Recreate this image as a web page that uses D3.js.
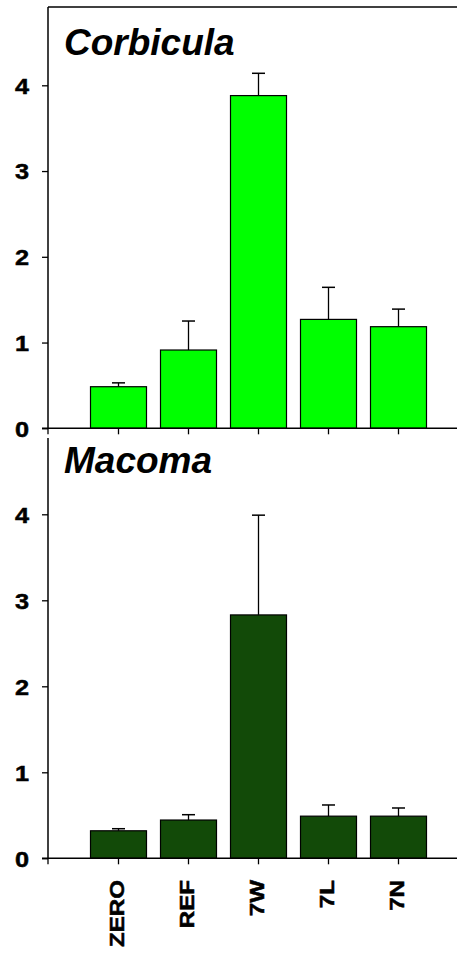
<!DOCTYPE html>
<html>
<head>
<meta charset="utf-8">
<script src="https://cdn.jsdelivr.net/npm/d3@7"></script>
<style>
  html, body { margin: 0; padding: 0; background: #fff; }
  svg { display: block; }
  text { font-family: "Liberation Sans", Arial, sans-serif; font-weight: bold; fill: #000; }
</style>
</head>
<body>
<svg id="chart" width="457" height="953"></svg>
<script>
// Sites along the x axis
const sites = ["ZERO", "REF", "7W", "7L", "7N"];

// Corbicula: mean and upper error
const corbiculaMean = [0.485, 0.913, 3.88, 1.27, 1.185];
const corbiculaErr  = [0.045, 0.338, 0.26, 0.374, 0.205];

// Macoma: mean and upper error
const macomaMean = [0.32, 0.445, 2.83, 0.49, 0.49];
const macomaErr  = [0.024, 0.062, 1.16, 0.13, 0.095];

const yTicks = [0, 1, 2, 3, 4];

const svg = d3.select("#chart");

const x = d3.scaleBand()
  .domain(sites)
  .range([83.5, 433.5])
  .paddingInner(0.2)
  .paddingOuter(0.1);

const axisX0 = 48, axisXEnd = 457;

const panels = [
  { title: "Corbicula", mean: corbiculaMean, err: corbiculaErr, fill: "#00ff00",
    y0: 428.3, y4: 85.3, top: 7, frameTop: true, titleY: 55 },
  { title: "Macoma", mean: macomaMean, err: macomaErr, fill: "#124a08",
    y0: 858.3, y4: 514.3, top: 438, frameTop: false, titleY: 473 }
];

panels.forEach((p, pi) => {
  const y = d3.scaleLinear().domain([0, 4]).range([p.y0, p.y4]);
  const g = svg.append("g");

  // bars
  g.selectAll("rect.bar")
    .data(sites)
    .join("rect")
    .attr("class", "bar")
    .attr("x", d => x(d))
    .attr("width", x.bandwidth())
    .attr("y", (d, i) => y(p.mean[i]))
    .attr("height", (d, i) => y(0) - y(p.mean[i]))
    .attr("fill", p.fill)
    .attr("stroke", "#000")
    .attr("stroke-width", 1.2);

  // error bars (upper only)
  const eb = g.selectAll("g.err")
    .data(sites)
    .join("g")
    .attr("class", "err");
  eb.append("line")
    .attr("x1", d => x(d) + x.bandwidth() / 2)
    .attr("x2", d => x(d) + x.bandwidth() / 2)
    .attr("y1", (d, i) => y(p.mean[i]))
    .attr("y2", (d, i) => y(p.mean[i] + p.err[i]))
    .attr("stroke", "#000").attr("stroke-width", 1.3);
  eb.append("line")
    .attr("x1", d => x(d) + x.bandwidth() / 2 - 6.5)
    .attr("x2", d => x(d) + x.bandwidth() / 2 + 6.5)
    .attr("y1", (d, i) => y(p.mean[i] + p.err[i]))
    .attr("y2", (d, i) => y(p.mean[i] + p.err[i]))
    .attr("stroke", "#000").attr("stroke-width", 1.5);

  // left axis
  const yAxis = d3.axisLeft(y).tickValues(yTicks).tickFormat(d3.format("d"))
    .tickSize(6).tickSizeOuter(0).tickPadding(13);
  const ya = g.append("g").attr("transform", `translate(${axisX0},0)`).call(yAxis);
  ya.select(".domain").remove();
  ya.selectAll(".tick line").attr("stroke", "#000").attr("stroke-width", 1.3);
  ya.selectAll(".tick text")
    .style("font-size", "22px")
    .attr("x", -19 / 1.15)
    .attr("transform", "scale(1.15,1)")
    .attr("stroke", "#000")
    .attr("stroke-width", 0.5)
    .attr("dy", "0.36em");

  g.append("line")
    .attr("x1", axisX0).attr("x2", axisX0)
    .attr("y1", p.top).attr("y2", y(0))
    .attr("stroke", "#000").attr("stroke-width", 1.5);

  if (p.frameTop) {
    g.append("line")
      .attr("x1", axisX0).attr("x2", axisXEnd)
      .attr("y1", p.top).attr("y2", p.top)
      .attr("stroke", "#000").attr("stroke-width", 1.5);
  }

  // bottom axis
  const xAxis = d3.axisBottom(x).tickSize(6).tickSizeOuter(0).tickFormat("");
  const xa = g.append("g").attr("transform", `translate(0,${y(0)})`).call(xAxis);
  xa.select(".domain").remove();
  xa.selectAll(".tick line").attr("stroke", "#000").attr("stroke-width", 1.3);
  g.append("line")
    .attr("x1", axisX0 - 6).attr("x2", axisXEnd)
    .attr("y1", y(0)).attr("y2", y(0))
    .attr("stroke", "#000").attr("stroke-width", 1.5);
  g.append("line")
    .attr("x1", axisX0).attr("x2", axisX0)
    .attr("y1", y(0)).attr("y2", y(0) + 6)
    .attr("stroke", "#000").attr("stroke-width", 1.3);

  // panel title
  g.append("text")
    .attr("x", 64)
    .attr("y", p.titleY)
    .style("font-size", "37px")
    .style("font-style", "italic")
    .text(p.title);

  // site labels under the lower panel
  if (pi === panels.length - 1) {
    g.selectAll("text.site")
      .data(sites)
      .join("text")
      .attr("class", "site")
      .attr("text-anchor", "end")
      .attr("transform", d => `translate(${x(d) + x.bandwidth() / 2 + 5.5},880) rotate(-90) scale(1.15,1)`)
      .attr("stroke", "#000")
      .attr("stroke-width", 0.5)
      .style("font-size", "21px")
      .text(d => d);
  }
});
</script>
</body>
</html>
